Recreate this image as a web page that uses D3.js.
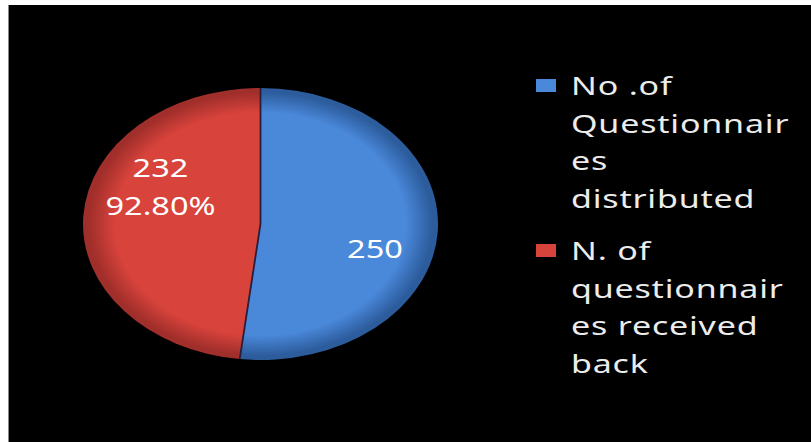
<!DOCTYPE html>
<html><head><meta charset="utf-8">
<script src="https://cdn.jsdelivr.net/npm/d3@7"></script>
<style>html,body{margin:0;padding:0;background:#fff;}svg{display:block;}</style>
</head><body>
<svg id="c" width="811" height="442"></svg>
<script>
const categories = ["No .of Questionnaires distributed", "N. of questionnaires received back"];
const values = [250, 232];
const sliceLabels = [["250"], ["232", "92.80%"]];
const legendLines = [["No .of", "Questionnair", "es", "distributed"], ["N. of", "questionnair", "es received", "back"]];
const colors = [
  {mid: "#4a88da", edge: "#2c5c9c"},
  {mid: "#d8433c", edge: "#a02e2a"}
];

const svg = d3.select("#c");
svg.append("rect").attr("x", 8).attr("y", 5).attr("width", 803).attr("height", 437).attr("fill", "#000");
svg.append("line").attr("x1", 8.5).attr("x2", 8.5).attr("y1", 5).attr("y2", 442).attr("stroke", "#888").attr("stroke-width", 1);

const cx = 260.5, cy = 224, rx = 177.5, ry = 136;
const defs = svg.append("defs");
colors.forEach((c, i) => {
  const g = defs.append("radialGradient").attr("id", "g" + i)
    .attr("gradientUnits", "userSpaceOnUse").attr("cx", 0).attr("cy", 0).attr("r", ry);
  g.append("stop").attr("offset", "0%").attr("stop-color", c.mid);
  g.append("stop").attr("offset", "82%").attr("stop-color", c.mid);
  g.append("stop").attr("offset", "97%").attr("stop-color", c.edge);
  g.append("stop").attr("offset", "100%").attr("stop-color", c.edge);
});

const pie = d3.pie().sort(null).startAngle(0).endAngle(2 * Math.PI);
const arcs = pie(values);
const arc = d3.arc().innerRadius(0).outerRadius(ry);
const pg = svg.append("g").attr("transform", `translate(${cx},${cy}) scale(${rx / ry},1)`);
pg.selectAll("path").data(arcs).join("path")
  .attr("d", arc)
  .attr("fill", (d, i) => `url(#g${i})`);
// separators between slices
pg.selectAll("line.sep").data(arcs).join("line").attr("class", "sep")
  .attr("x1", 0).attr("y1", 0)
  .attr("x2", d => ry * Math.sin(d.startAngle))
  .attr("y2", d => -ry * Math.cos(d.startAngle))
  .attr("stroke", "#2a1e3a").attr("stroke-width", 1.8)
  .attr("vector-effect", "non-scaling-stroke");

// labels
const labelPos = [[375, 258], [160.5, 177]];
const lbl = svg.append("g").attr("font-family", "'Noto Sans', 'Open Sans', sans-serif").attr("font-size", 25).attr("fill", "#fff");
arcs.forEach((d, i) => {
  const t = lbl.append("text").attr("text-anchor", "middle")
    .attr("transform", `translate(${labelPos[i][0]},${labelPos[i][1]}) scale(1.3,1)`);
  sliceLabels[i].forEach((s, j) => {
    t.append("tspan").attr("x", 0).attr("y", j * 38).text(s);
  });
});

// legend
const lg = svg.append("g").attr("font-family", "'Noto Sans', 'Open Sans', sans-serif").attr("font-size", 25).attr("fill", "#ececec");
const entryY = [95, 260];
const lineH = 37.5;
categories.forEach((c, i) => {
  lg.append("rect").attr("x", 536).attr("y", entryY[i] - 16).attr("width", 20).attr("height", 13).attr("fill", colors[i].mid);
  legendLines[i].forEach((s, j) => {
    lg.append("text").attr("x", 0).attr("y", 0)
      .attr("letter-spacing", 0.6)
      .attr("transform", `translate(571,${entryY[i] + j * lineH}) scale(1.36,1)`)
      .text(s);
  });
});
</script>
</body></html>
